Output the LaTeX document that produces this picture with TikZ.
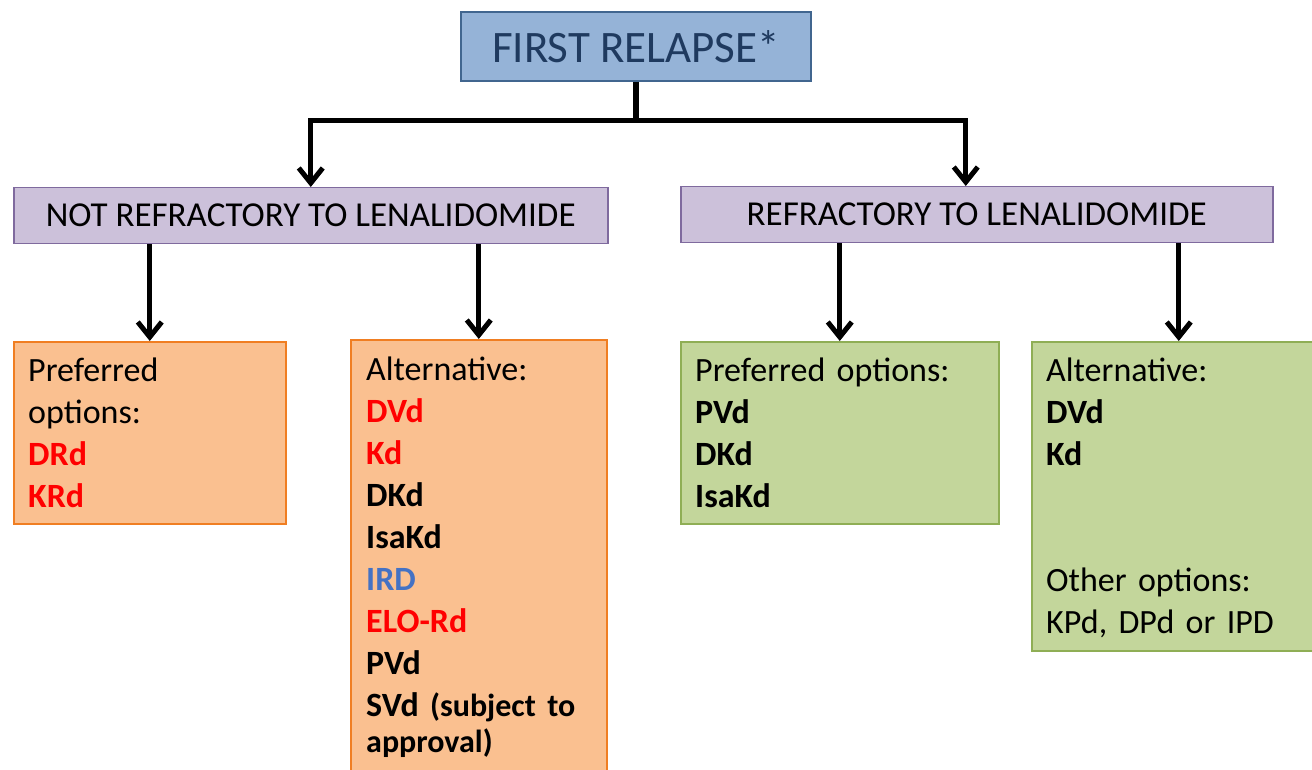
\documentclass[tikz,border=0pt]{standalone}
\usepackage{fontspec}
\setmainfont{Carlito}
\usetikzlibrary{arrows.meta}
\definecolor{relapsefill}{HTML}{95B3D7}
\definecolor{relapseline}{HTML}{41668F}
\definecolor{relapsetext}{HTML}{1F3A5F}
\definecolor{lenfill}{HTML}{CCC1DA}
\definecolor{lenline}{HTML}{7F6A9E}
\definecolor{notfill}{HTML}{FAC090}
\definecolor{notline}{HTML}{F07E22}
\definecolor{reffill}{HTML}{C3D69B}
\definecolor{refline}{HTML}{8FAE55}
\definecolor{optred}{HTML}{FF0000}
\definecolor{optblue}{HTML}{4472C4}
\newcommand{\red}[1]{\textbf{\color{optred}#1}}
\begin{document}
\begin{tikzpicture}[x=1pt,y=-1pt,
  box/.style={draw,line width=1.5pt,inner sep=0pt,anchor=north west},
  hdr/.style={box,fill=lenfill,draw=lenline,minimum height=56,font=\fontsize{35}{40}\selectfont},
  conn/.style={line width=5.5pt},
  arr/.style={line width=5pt,-{Straight Barb[length=15pt,width=24pt]}},
  txt/.style={anchor=base west,inner sep=0pt,text width=330pt,align=left,font=\fontsize{34}{42}\selectfont}]
  \path[use as bounding box,clip] (0,0) rectangle (1312,770);
  % top box
  \node[box,anchor=center,fill=relapsefill,draw=relapseline,minimum width=350,minimum height=69,
        font=\fontsize{45}{54}\selectfont,text=relapsetext] (relapse) at (636,46.5) {FIRST RELAPSE*};
  % lenalidomide headers
  \node[hdr,minimum width=594] (notref) at (13,187) {NOT REFRACTORY TO LENALIDOMIDE};
  \node[hdr,minimum width=592] (ref) at (680,186) {REFRACTORY TO LENALIDOMIDE};
  % option boxes
  \node[box,fill=notfill,draw=notline,minimum width=272,minimum height=182] (npref) at (13,341) {};
  \node[box,fill=notfill,draw=notline,minimum width=256,minimum height=460] (nalt) at (350,339) {};
  \node[box,fill=reffill,draw=refline,minimum width=318,minimum height=182] (rpref) at (680,341) {};
  \node[box,fill=reffill,draw=refline,minimum width=294,minimum height=309] (ralt) at (1031,341) {};
  % texts
  \node[txt] (nptext) at (28,381) {Preferred\\options:\\\red{DRd}\\\red{KRd}};
  \node[txt] (natext) at (366,380) {Alternative:\\\red{DVd}\\\red{Kd}\\\textbf{DKd}\\\textbf{IsaKd}\\
    \textbf{\color{optblue}IRD}\\\red{ELO-Rd}\\\textbf{PVd}\\\textbf{SVd {\fontsize{32}{36}\selectfont(subject to}}\\[-6pt]
    \textbf{\fontsize{32}{36}\selectfont approval)}};
  \node[txt] (rptext) at (695,381) {Preferred options:\\\textbf{PVd}\\\textbf{DKd}\\\textbf{IsaKd}};
  \node[txt] (ratext) at (1046,381) {Alternative:\\\textbf{DVd}\\\textbf{Kd}\\[84pt]Other options:\\KPd, DPd or IPD};
  % connectors
  \coordinate (split) at (636,121);
  \draw[conn] (relapse.south) -- (split);
  \draw[arr] (split) -| (notref.north);
  \draw[arr] (split) -| ([xshift=-11pt]ref.north);
  \draw[arr] (notref.south -| npref.north) -- (npref.north);
  \draw[arr] (notref.south -| nalt.north) -- (nalt.north);
  \draw[arr] (ref.south -| rpref.north) -- (rpref.north);
  \draw[arr] (ref.south -| ralt.north) -- (ralt.north);
\end{tikzpicture}
\end{document}
